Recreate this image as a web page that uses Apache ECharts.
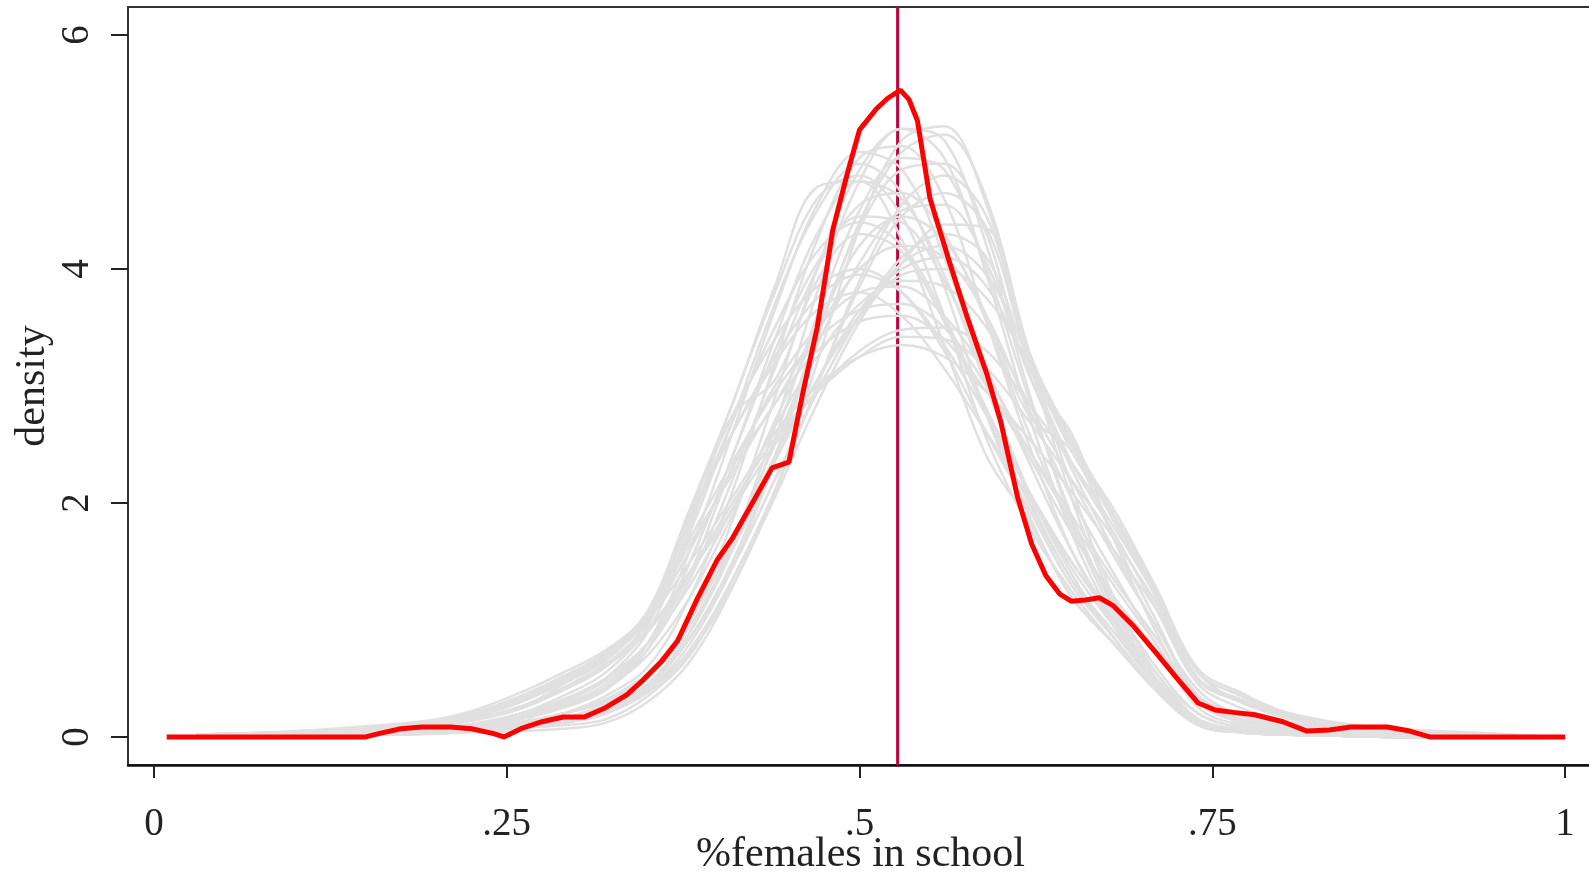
<!DOCTYPE html>
<html>
<head>
<meta charset="utf-8">
<script src="https://cdn.jsdelivr.net/npm/echarts@6/dist/echarts.min.js"></script>
<style>
html,body{margin:0;padding:0;background:#fff;}
#chart{width:1589px;height:873px;}
</style>
</head>
<body>
<div id="chart"></div>
<script>
// ---------- data ----------
const xTicks = [0, 0.25, 0.5, 0.75, 1];
const xTickLabels = ['0', '.25', '.5', '.75', '1'];
const yTicks = [0, 2, 4, 6];
const yTickLabels = ['0', '2', '4', '6'];
const xTitle = '%females in school';
const yTitle = 'density';
const meanX = 0.527;

// observed density (red)
const redX = [0.009,0.05,0.10,0.150,0.16,0.175,0.19,0.21,0.225,0.24,0.248,0.26,0.275,0.29,0.305,0.32,0.335,0.347,0.36,0.371,0.385,0.399,0.41,0.425,0.438,0.45,0.46,0.470,0.477,0.481,0.491,0.500,0.512,0.52,0.529,0.535,0.541,0.550,0.564,0.576,0.590,0.60,0.612,0.622,0.632,0.642,0.650,0.660,0.670,0.680,0.694,0.71,0.725,0.740,0.752,0.765,0.78,0.80,0.817,0.833,0.848,0.874,0.89,0.904,0.95,1.0];
const redY = [0,0,0,0,0.03,0.07,0.085,0.085,0.07,0.03,0.0,0.07,0.13,0.17,0.17,0.25,0.36,0.49,0.65,0.82,1.18,1.51,1.70,2.02,2.30,2.35,2.95,3.50,4.02,4.33,4.80,5.19,5.37,5.46,5.53,5.45,5.27,4.60,4.05,3.60,3.11,2.70,2.05,1.65,1.38,1.22,1.16,1.17,1.19,1.12,0.95,0.72,0.50,0.29,0.23,0.21,0.19,0.13,0.05,0.06,0.085,0.085,0.05,0,0,0];

// simulated densities (grey), sampled at gx
const gx = [0.03,0.1,0.16,0.2,0.23,0.26,0.29,0.32,0.35,0.38,0.41,0.44,0.47,0.5,0.53,0.56,0.59,0.62,0.65,0.68,0.71,0.74,0.77,0.8,0.84,0.88,0.93,0.98];
const sim01 = [0.01,0.01,0.02,0.03,0.04,0.05,0.07,0.12,0.30,0.65,1.28,2.10,3.20,4.35,5.10,5.22,4.55,3.30,2.15,1.20,0.55,0.20,0.08,0.04,0.02,0.01,0.01,0];
const sim02 = [0.01,0.02,0.05,0.08,0.12,0.2,0.35,0.55,0.95,1.90,2.85,3.80,4.60,4.80,4.45,3.60,2.55,1.80,1.25,0.80,0.42,0.15,0.06,0.03,0.02,0.01,0,0];
const sim03 = [0.01,0.02,0.03,0.05,0.08,0.12,0.2,0.35,0.6,1.2,2.1,3.2,4.25,4.95,5.05,4.6,3.55,2.5,1.6,0.95,0.45,0.15,0.05,0.02,0.01,0,0,0];
const sim04 = [0,0.01,0.02,0.03,0.05,0.08,0.1,0.15,0.35,0.7,1.35,2.1,3.0,3.9,4.55,4.8,4.45,3.25,2.45,1.9,1.25,0.55,0.3,0.18,0.08,0.04,0.02,0.01];
const sim05 = [0.01,0.03,0.06,0.1,0.15,0.25,0.45,0.65,1.0,1.5,2.05,2.6,3.0,3.25,3.35,3.25,2.95,2.55,2.1,1.6,1.1,0.5,0.3,0.18,0.09,0.05,0.02,0.01];
const sim06 = [0.02,0.04,0.07,0.12,0.18,0.3,0.5,0.7,1.05,1.85,2.7,3.5,4.15,4.4,4.2,3.6,2.8,2.1,1.45,0.95,0.5,0.15,0.06,0.03,0.02,0.01,0,0];
const sim07 = [0.01,0.02,0.03,0.05,0.08,0.12,0.2,0.3,0.55,1.0,1.7,2.5,3.35,4.05,4.5,4.55,4.05,3.1,2.3,1.6,0.95,0.4,0.18,0.08,0.04,0.02,0.01,0];
const sim08 = [0.01,0.02,0.03,0.05,0.08,0.12,0.2,0.3,0.5,0.95,1.6,2.35,3.05,3.65,4.0,4.1,3.85,3.15,2.5,1.85,1.2,0.5,0.32,0.2,0.1,0.05,0.02,0.01];
const sim09 = [0,0.01,0.02,0.04,0.06,0.1,0.15,0.25,0.45,0.9,1.6,2.55,3.6,4.5,4.95,4.85,4.0,2.9,1.9,1.1,0.5,0.15,0.05,0.02,0.01,0,0,0];
const sim10 = [0.02,0.04,0.08,0.13,0.2,0.32,0.5,0.7,1.05,1.7,2.35,2.95,3.4,3.65,3.7,3.5,3.0,2.4,1.75,1.2,0.75,0.3,0.15,0.08,0.04,0.02,0.01,0];
const sim11 = [0.02,0.04,0.08,0.14,0.22,0.35,0.52,0.72,1.08,1.95,2.75,3.4,3.85,4.0,3.8,3.3,2.6,1.95,1.3,0.85,0.42,0.1,0.04,0.02,0.01,0,0,0];
const sim12 = [0,0.01,0.02,0.04,0.07,0.1,0.16,0.25,0.45,0.85,1.45,2.2,2.95,3.6,4.1,4.3,4.1,3.2,2.5,1.95,1.28,0.58,0.38,0.22,0.12,0.07,0.04,0.01];
const sim13 = [0.01,0.02,0.04,0.07,0.1,0.16,0.25,0.4,0.75,1.5,2.4,3.4,4.3,4.75,4.6,3.95,3.0,2.1,1.4,0.85,0.4,0.1,0.04,0.02,0.01,0,0,0];
const sim14 = [0.01,0.03,0.05,0.08,0.12,0.2,0.32,0.5,0.8,1.3,1.95,2.65,3.25,3.7,3.9,3.85,3.5,2.85,2.2,1.55,0.95,0.35,0.2,0.12,0.06,0.03,0.01,0];
const sim15 = [0,0.01,0.02,0.03,0.05,0.08,0.12,0.2,0.4,0.8,1.45,2.35,3.4,4.4,5.0,5.15,4.6,3.25,2.05,1.15,0.5,0.12,0.04,0.02,0.01,0,0,0];
const sim16 = [0.01,0.02,0.04,0.07,0.11,0.18,0.3,0.48,0.8,1.4,2.3,2.85,3.5,4.2,4.45,4.25,3.6,2.75,2.45,1.7,1.0,0.35,0.15,0.07,0.03,0.01,0,0];
const sim17 = [0.01,0.03,0.06,0.1,0.16,0.26,0.4,0.6,0.9,1.4,1.95,2.5,2.95,3.3,3.48,3.5,3.3,2.85,2.35,1.8,1.2,0.5,0.32,0.2,0.1,0.05,0.02,0.01];
const sim18 = [0.01,0.02,0.04,0.07,0.11,0.18,0.3,0.5,0.9,1.75,2.7,3.7,4.5,4.9,4.65,3.85,2.75,1.9,1.2,0.8,0.4,0.1,0.04,0.02,0.01,0,0,0];
const sim19 = [0.01,0.02,0.04,0.07,0.11,0.18,0.28,0.42,0.7,1.2,1.9,2.7,3.45,4.0,4.2,4.1,3.6,2.8,2.05,1.4,0.8,0.25,0.1,0.05,0.02,0.01,0,0];
const sim20 = [0.02,0.05,0.1,0.15,0.24,0.38,0.55,0.74,1.06,1.9,2.6,3.2,3.65,3.8,3.6,3.15,2.6,2.05,1.5,1.0,0.55,0.12,0.05,0.02,0.01,0,0,0];
const sim21 = [0,0.01,0.02,0.03,0.05,0.09,0.14,0.22,0.4,0.75,1.35,2.1,3.0,3.85,4.45,4.65,4.35,3.2,2.35,1.75,1.1,0.45,0.25,0.14,0.07,0.04,0.02,0];
const sim22 = [0,0.01,0.02,0.04,0.06,0.1,0.16,0.28,0.5,1.0,1.85,2.9,4.0,4.85,5.2,4.95,3.95,2.75,1.75,1.0,0.45,0.12,0.04,0.02,0.01,0,0,0];
const sim23 = [0.02,0.03,0.06,0.1,0.16,0.26,0.42,0.62,0.98,1.8,2.75,3.05,3.9,4.3,4.15,3.55,2.75,2.0,1.35,0.9,0.45,0.12,0.05,0.02,0.01,0,0,0];
const sim24 = [0,0.01,0.02,0.03,0.05,0.08,0.12,0.2,0.42,0.85,1.5,2.4,3.45,4.35,4.85,4.9,4.3,3.1,2.6,1.7,0.9,0.3,0.12,0.05,0.02,0.01,0,0];
const sim25 = [0.02,0.04,0.08,0.13,0.2,0.3,0.48,0.68,1.02,1.65,2.25,2.85,3.3,3.55,3.6,3.4,2.95,2.45,1.9,1.35,0.85,0.35,0.18,0.1,0.05,0.02,0.01,0];
const sim26 = [0.01,0.02,0.03,0.06,0.09,0.15,0.25,0.42,0.8,1.6,2.6,3.65,4.55,5.0,4.85,4.1,3.0,2.05,1.35,0.85,0.4,0.1,0.04,0.02,0.01,0,0,0];
const sim27 = [0,0.01,0.02,0.03,0.05,0.08,0.12,0.2,0.38,0.72,1.3,2.05,2.85,3.55,4.05,4.38,4.35,3.3,2.5,1.9,1.25,0.55,0.35,0.2,0.1,0.05,0.02,0.01];
const sim28 = [0.02,0.04,0.08,0.14,0.21,0.33,0.5,0.7,1.05,1.85,2.6,3.25,3.75,3.95,3.8,3.35,2.75,2.1,1.5,1.0,0.55,0.15,0.06,0.03,0.01,0,0,0];
const sim29 = [0.01,0.02,0.04,0.06,0.1,0.16,0.26,0.42,0.75,1.35,2.2,3.15,4.0,4.55,4.65,4.3,3.55,2.6,1.8,1.15,0.6,0.2,0.08,0.04,0.02,0.01,0,0];
const sim30 = [0.01,0.03,0.06,0.1,0.16,0.26,0.42,0.62,0.92,1.42,2.0,2.55,2.95,3.25,3.42,3.4,3.15,2.7,2.2,1.7,1.15,0.48,0.3,0.18,0.09,0.05,0.02,0.01];
const sim31 = [0.01,0.03,0.06,0.1,0.15,0.24,0.4,0.6,1.0,1.95,2.85,3.85,4.7,4.75,4.25,3.35,2.4,1.85,1.2,0.8,0.4,0.1,0.04,0.02,0.01,0,0,0];
const sim32 = [0,0.01,0.02,0.04,0.06,0.1,0.15,0.25,0.45,0.85,1.45,2.2,2.95,3.6,4.05,4.2,3.95,3.25,2.55,1.9,1.2,0.5,0.3,0.17,0.08,0.04,0.02,0.01];
const sim33 = [0.02,0.04,0.07,0.12,0.19,0.3,0.46,0.66,1.0,1.6,2.3,3.0,3.5,3.8,3.85,3.6,3.1,2.45,1.85,1.3,0.8,0.3,0.14,0.07,0.03,0.01,0,0];
const sim34 = [0,0.01,0.02,0.03,0.05,0.08,0.12,0.22,0.45,0.9,1.65,2.65,3.8,4.75,5.2,5.1,4.2,2.95,1.85,1.05,0.48,0.14,0.05,0.02,0.01,0,0,0];
const sim35 = [0.01,0.02,0.04,0.07,0.11,0.17,0.28,0.45,0.8,1.5,2.4,3.3,4.05,4.45,4.4,3.9,3.15,2.35,1.6,1.0,0.5,0.15,0.06,0.03,0.01,0,0,0];
const sim36 = [0.01,0.02,0.03,0.05,0.08,0.13,0.2,0.32,0.55,1.0,1.65,2.4,3.05,3.6,3.95,4.0,3.75,3.2,2.55,1.9,1.25,0.55,0.36,0.21,0.11,0.06,0.03,0.01];
const simCurves = [sim01,sim02,sim03,sim04,sim05,sim06,sim07,sim08,sim09,sim10,sim11,sim12,sim13,sim14,sim15,sim16,sim17,sim18,sim19,sim20,sim21,sim22,sim23,sim24,sim25,sim26,sim27,sim28,sim29,sim30,sim31,sim32,sim33,sim34,sim35,sim36];

// ---------- chart ----------
const xMin = -0.0184, xMax = 1.0198;
const yMin = -0.24, yMax = 6.24;
const FONT = 'Liberation Serif';
const TXT = '#222';

const series = [];
series.push({
  type: 'line', z: 1, silent: true, showSymbol: false, animation: false,
  data: [[meanX, yMin], [meanX, yMax]],
  lineStyle: { color: '#C2003C', width: 3 }
});
simCurves.forEach(arr => {
  series.push({
    type: 'line', z: 2, silent: true, showSymbol: false, smooth: 0.35, animation: false,
    data: gx.map((x, i) => [x, arr[i]]),
    lineStyle: { color: '#E0E0E0', width: 2.5 }
  });
});
series.push({
  type: 'line', z: 3, silent: true, showSymbol: false, animation: false,
  data: redX.map((x, i) => [x, redY[i]]),
  lineStyle: { color: '#FF0000', width: 5 }
});

const chart = echarts.init(document.getElementById('chart'), null, { renderer: 'canvas' });
chart.setOption({
  animation: false,
  backgroundColor: '#fff',
  grid: { left: 128, top: 7, right: -4, bottom: 108, outerBoundsMode: 'none', containLabel: false,
          show: true, borderColor: '#333', borderWidth: 2, backgroundColor: 'transparent' },
  xAxis: {
    type: 'value', min: xMin, max: xMax,
    name: xTitle, nameLocation: 'middle', nameGap: 69, nameMoveOverlap: false,
    nameTextStyle: { fontFamily: FONT, fontSize: 42, color: TXT },
    axisLine: { show: true, onZero: false, lineStyle: { color: '#111', width: 2.5 } },
    axisTick: { show: true, length: 13, lineStyle: { color: '#222', width: 2 }, customValues: xTicks },
    axisLabel: {
      show: true, margin: 40, fontFamily: FONT, fontSize: 39, color: TXT, customValues: xTicks,
      formatter: v => { const i = xTicks.findIndex(t => Math.abs(t - v) < 1e-9); return i >= 0 ? xTickLabels[i] : ''; }
    },
    splitLine: { show: false }
  },
  yAxis: {
    type: 'value', min: yMin, max: yMax,
    name: yTitle, nameLocation: 'middle', nameGap: 74, nameRotate: 90, nameMoveOverlap: false,
    nameTextStyle: { fontFamily: FONT, fontSize: 42, color: TXT },
    axisLine: { show: true, onZero: false, lineStyle: { color: '#333', width: 2 } },
    axisTick: { show: true, length: 17, lineStyle: { color: '#222', width: 2 }, customValues: yTicks },
    axisLabel: {
      show: true, rotate: 90, margin: 31, fontFamily: FONT, fontSize: 39, color: TXT, customValues: yTicks,
      formatter: v => { const i = yTicks.findIndex(t => Math.abs(t - v) < 1e-9); return i >= 0 ? yTickLabels[i] : ''; }
    },
    splitLine: { show: false }
  },
  series: series
});
</script>
</body>
</html>
